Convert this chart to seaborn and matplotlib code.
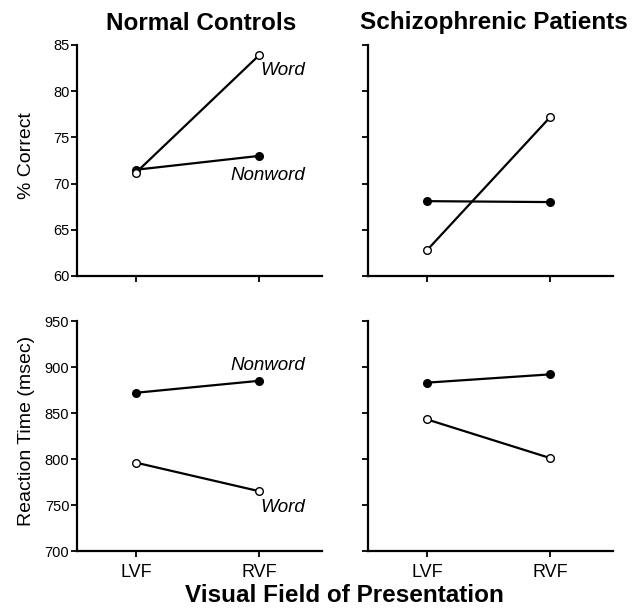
import matplotlib
matplotlib.use("Agg")
import matplotlib.pyplot as plt
import seaborn as sns

# ---- data ----
fields = ["LVF", "RVF"]
nc_acc_word = [71.2, 83.9]
nc_acc_nonword = [71.5, 73.0]
sp_acc_word = [62.8, 77.2]
sp_acc_nonword = [68.1, 68.0]
nc_rt_word = [796, 765]
nc_rt_nonword = [872, 885]
sp_rt_word = [843, 801]
sp_rt_nonword = [883, 892]
acc_ticks = [60, 65, 70, 75, 80, 85]
rt_ticks = [700, 750, 800, 850, 900, 950]
titles = ["Normal Controls", "Schizophrenic Patients"]

sns.set_theme(style="ticks")
plt.rcParams["font.family"] = ["Liberation Sans", "DejaVu Sans"]
plt.rcParams.update({"text.color": "black", "axes.labelcolor": "black",
                     "xtick.color": "black", "ytick.color": "black"})

fig = plt.figure(figsize=(6.44, 6.12), dpi=100)
W, H = 644, 612

def add_ax(x0, x1, y0, y1):
    return fig.add_axes([x0 / W, 1 - y1 / H, (x1 - x0) / W, (y1 - y0) / H])

ax_tl = add_ax(77, 322, 45, 276)
ax_tr = add_ax(368, 613, 45, 276)
ax_bl = add_ax(77, 322, 321, 551)
ax_br = add_ax(368, 613, 321, 551)

def draw(ax, word, nonword):
    sns.lineplot(x=fields, y=nonword, ax=ax, color="black", lw=1.6,
                 marker="o", markersize=5.5, markerfacecolor="black",
                 markeredgecolor="black", markeredgewidth=1.0, sort=False)
    sns.lineplot(x=fields, y=word, ax=ax, color="black", lw=1.6,
                 marker="o", markersize=5.5, markerfacecolor="white",
                 markeredgecolor="black", markeredgewidth=1.0, sort=False)

draw(ax_tl, nc_acc_word, nc_acc_nonword)
draw(ax_tr, sp_acc_word, sp_acc_nonword)
draw(ax_bl, nc_rt_word, nc_rt_nonword)
draw(ax_br, sp_rt_word, sp_rt_nonword)

for ax in (ax_tl, ax_tr, ax_bl, ax_br):
    sns.despine(ax=ax)
    ax.set_facecolor("white")
    ax.set_xlim(-0.48, 1.51)
    for s in ("left", "bottom"):
        ax.spines[s].set_linewidth(1.6)
        ax.spines[s].set_color("black")
    ax.tick_params(axis="both", direction="out", length=4, width=1.3,
                   color="black", labelcolor="black")
    ax.tick_params(axis="y", labelsize=10.5, pad=1.5)
    ax.tick_params(axis="x", labelsize=13, pad=5.5)
    ax.set_xlabel("")
    ax.set_ylabel("")

for ax in (ax_tl, ax_tr):
    ax.set_ylim(60, 85)
    ax.set_yticks(acc_ticks)
    ax.set_xticks(range(len(fields)))
    ax.set_xticklabels([])
for ax in (ax_bl, ax_br):
    ax.set_ylim(700, 950)
    ax.set_yticks(rt_ticks)
    ax.set_xticks(range(len(fields)))
    ax.set_xticklabels(fields)
ax_tl.set_yticklabels([str(t) for t in acc_ticks])
ax_bl.set_yticklabels([str(t) for t in rt_ticks])
ax_tr.set_yticklabels([])
ax_br.set_yticklabels([])

ax_tl.set_ylabel("% Correct", fontsize=14)
ax_bl.set_ylabel("Reaction Time (msec)", fontsize=14)
ax_tl.yaxis.set_label_coords(-0.17, 0.52)
ax_bl.yaxis.set_label_coords(-0.17, 0.52)

# series labels
ax_tl.text(1.374, 82.2, "Word", style="italic", fontsize=13.5, ha="right", va="center")
ax_tl.text(1.374, 70.9, "Nonword", style="italic", fontsize=13.5, ha="right", va="center")
ax_bl.text(1.374, 902, "Nonword", style="italic", fontsize=13.5, ha="right", va="center")
ax_bl.text(1.374, 747, "Word", style="italic", fontsize=13.5, ha="right", va="center")

fig.text(201 / W, 1 - 23 / H, titles[0], fontsize=17.5, fontweight="bold",
         ha="center", va="center")
fig.text(494 / W, 1 - 22 / H, titles[1], fontsize=17.5, fontweight="bold",
         ha="center", va="center")
fig.text(344 / W, 1 - 596 / H, "Visual Field of Presentation", fontsize=17.5,
         fontweight="bold", ha="center", va="center")

fig.savefig("out.png", dpi=100, facecolor="white")
